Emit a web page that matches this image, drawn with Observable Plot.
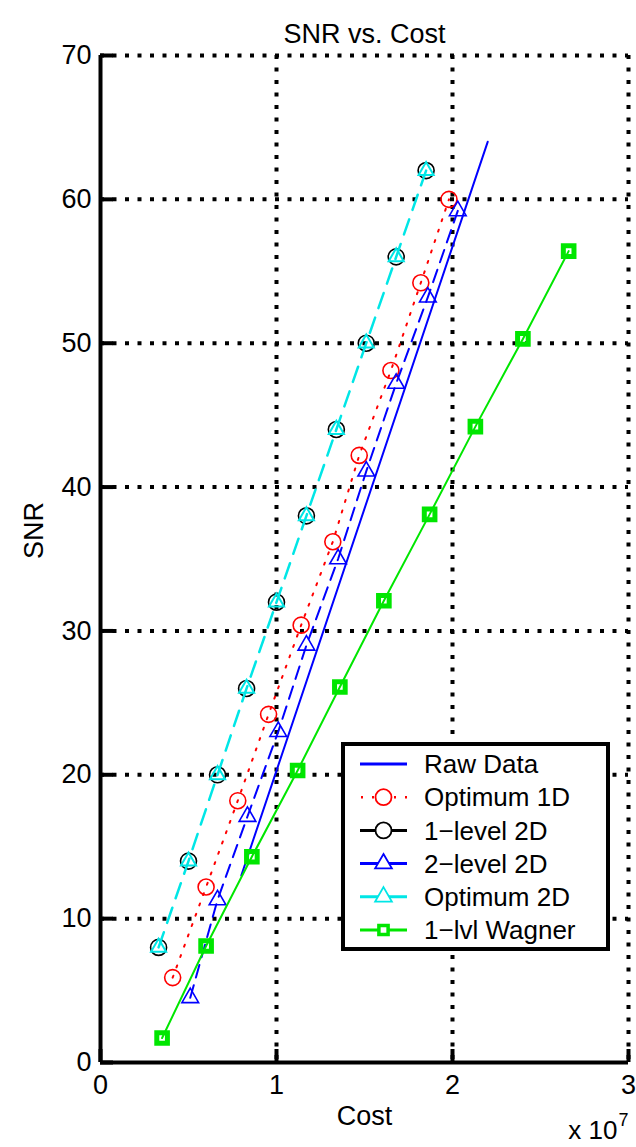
<!DOCTYPE html>
<html><head><meta charset="utf-8">
<script src="https://cdn.jsdelivr.net/npm/d3@7"></script>
<script src="https://cdn.jsdelivr.net/npm/@observablehq/plot@0.6"></script>
<style>body{margin:0;background:#fff;} svg{display:block}</style>
</head><body><div id="chart"></div>
<script>
// ---- data (cost in units of 1e7) ----
const rawCost = [0.8, 2.2];
const rawSNR  = [13, 64];
const opt1DCost = [0.41, 0.60, 0.78, 0.955, 1.14, 1.32, 1.47, 1.65, 1.82, 1.98];
const opt1DSNR  = [5.9, 12.2, 18.2, 24.2, 30.4, 36.2, 42.2, 48.1, 54.2, 60];
const lvl1Cost  = [0.33, 0.50, 0.665, 0.83, 1.0, 1.17, 1.34, 1.51, 1.68, 1.85];
const lvl1SNR   = [8, 14, 20, 26, 32, 38, 44, 50, 56, 62];
const lvl2Cost  = [0.51, 0.665, 0.835, 1.01, 1.17, 1.35, 1.51, 1.68, 1.86, 2.03];
const lvl2SNR   = [4.5, 11.3, 17.1, 23, 29, 35, 41.1, 47.2, 53.2, 59.2];
const opt2DCost = [0.33, 0.50, 0.665, 0.83, 1.0, 1.17, 1.34, 1.51, 1.68, 1.85];
const opt2DSNR  = [8, 14, 20, 26, 32, 38, 44, 50, 56, 62];
const wagCost   = [0.35, 0.60, 0.86, 1.12, 1.36, 1.61, 1.87, 2.13, 2.40, 2.66];
const wagSNR    = [1.7, 8.1, 14.3, 20.3, 26.1, 32.1, 38.1, 44.2, 50.3, 56.4];
const xTicks = [0, 1, 2, 3];
const yTicks = [0, 10, 20, 30, 40, 50, 60, 70];
const seriesNames = ["Raw Data", "Optimum 1D", "1\u2212level 2D", "2\u2212level 2D", "Optimum 2D", "1\u2212lvl Wagner"];
const title = "SNR vs. Cost";
const xLabel = "Cost";
const yLabel = "SNR";

const toRows = (xs, ys) => xs.map((x, i) => ({cost: x, snr: ys[i]}));
const raw = toRows(rawCost, rawSNR);
const opt1D = toRows(opt1DCost, opt1DSNR);
const lvl1 = toRows(lvl1Cost, lvl1SNR);
const lvl2 = toRows(lvl2Cost, lvl2SNR);
const opt2D = toRows(opt2DCost, opt2DSNR);
const wag = toRows(wagCost, wagSNR);

// ---- styles ----
const BLUE = "#0000ff", RED = "#ff0000", CYAN = "#00e6e6", GREEN = "#00e600", BLACK = "#000";
const W = 636, H = 1147, ML = 100, MR = 8, MT = 55, MB = 85;
const FS = 27;
const FONT = "'Liberation Sans', Arial, sans-serif";

const chart = Plot.plot({
  width: W, height: H,
  marginLeft: ML, marginRight: MR, marginTop: MT, marginBottom: MB,
  style: {fontFamily: FONT, fontSize: FS + "px", background: "#fff", color: "#000"},
  x: {domain: [0, 3], ticks: xTicks},
  y: {domain: [0, 70], ticks: yTicks},
  marks: [
    // dotted grid
    Plot.ruleX(xTicks.filter(d => d > 0), {stroke: BLACK, strokeWidth: 4, strokeDasharray: "4,8.5"}),
    Plot.ruleY(yTicks.filter(d => d > 0), {stroke: BLACK, strokeWidth: 4, strokeDasharray: "4,8.5"}),
    // axis tick labels
    Plot.axisX({ticks: xTicks, tickSize: 0, tickPadding: 12, label: null, tickFormat: d => String(d)}),
    Plot.axisY({ticks: yTicks, tickSize: 0, tickPadding: 9, label: null, tickFormat: d => String(d)}),
    // series
    Plot.line(raw, {x: "cost", y: "snr", stroke: BLUE, strokeWidth: 2}),
    Plot.line(opt1D, {x: "cost", y: "snr", stroke: RED, strokeWidth: 2, strokeDasharray: "2,9"}),
    Plot.dot(opt1D, {x: "cost", y: "snr", r: 8, stroke: RED, strokeWidth: 1.6}),
    Plot.dot(lvl1, {x: "cost", y: "snr", r: 8, stroke: BLACK, strokeWidth: 1.6}),
    Plot.line(lvl2, {x: "cost", y: "snr", stroke: BLUE, strokeWidth: 2, strokeDasharray: "13,8"}),
    Plot.dot(lvl2, {x: "cost", y: "snr", symbol: "triangle", r: 6.2, stroke: BLUE, strokeWidth: 1.6}),
    Plot.line(opt2D, {x: "cost", y: "snr", stroke: CYAN, strokeWidth: 2.5, strokeDasharray: "16,10"}),
    Plot.dot(opt2D, {x: "cost", y: "snr", symbol: "triangle", r: 5.6, stroke: CYAN, strokeWidth: 2}),
    Plot.line(wag, {x: "cost", y: "snr", stroke: GREEN, strokeWidth: 2}),
    Plot.dot(wag, {x: "cost", y: "snr", symbol: "square", r: 6, stroke: GREEN, strokeWidth: 5}),
    // axes lines and inward ticks
    Plot.ruleX([0], {stroke: BLACK, strokeWidth: 4}),
    Plot.ruleY([0], {stroke: BLACK, strokeWidth: 4}),
    Plot.tickY(yTicks, {y: d => d, stroke: BLACK, strokeWidth: 4, insetRight: (W - ML - MR) - 13}),
    Plot.tickX(xTicks, {x: d => d, stroke: BLACK, strokeWidth: 4, insetTop: (H - MT - MB) - 13}),
    // titles
    Plot.text([title], {frameAnchor: "top", dy: -32, fontSize: FS}),
    Plot.text([xLabel], {frameAnchor: "bottom", dy: 62, fontSize: FS}),
    Plot.text([yLabel], {frameAnchor: "left", dx: -66, rotate: -90, fontSize: FS}),
    Plot.text(["x 10"], {frameAnchor: "bottom-right", dx: -11, dy: 76, textAnchor: "end", fontSize: FS - 1}),
    Plot.text(["7"], {frameAnchor: "bottom-right", dx: 0, dy: 63, textAnchor: "end", fontSize: 18})
  ]
});
document.getElementById("chart").appendChild(chart);

// ---- legend ----
const legendStyles = [
  {color: BLUE, dash: null, marker: null},
  {color: RED, dash: "2,9", marker: "circle"},
  {color: BLACK, dash: null, marker: "circle"},
  {color: BLUE, dash: null, marker: "triangle"},
  {color: CYAN, dash: null, marker: "triangle"},
  {color: GREEN, dash: null, marker: "square"}
];
const svg = d3.select(chart);
const lg = svg.append("g").attr("font-family", FONT).attr("font-size", FS - 1).attr("text-anchor", "start");
const bx = 343, by = 744, bw = 265, bh = 205, rowH = 33.2, row0 = 764;
lg.append("rect").attr("x", bx).attr("y", by).attr("width", bw).attr("height", bh)
  .attr("fill", "#fff").attr("stroke", BLACK).attr("stroke-width", 4);
seriesNames.forEach((name, i) => {
  const s = legendStyles[i];
  const cy = row0 + i * rowH;
  const g = lg.append("g");
  const ln = g.append("line").attr("x1", 360).attr("x2", 407).attr("y1", cy).attr("y2", cy)
    .attr("stroke", s.color).attr("stroke-width", i === 1 ? 2.5 : 3);
  if (s.dash) ln.attr("stroke-dasharray", s.dash).attr("stroke-dashoffset", -1);
  if (s.marker === "circle") {
    g.append("circle").attr("cx", 383.5).attr("cy", cy).attr("r", 8).attr("fill", "#fff").attr("stroke", s.color).attr("stroke-width", 1.8);
  } else if (s.marker) {
    const type = s.marker === "triangle" ? d3.symbolTriangle : d3.symbolSquare;
    const r = s.marker === "triangle" ? 6.2 : 5.2;
    g.append("path").attr("transform", `translate(383.5,${cy})`)
      .attr("d", d3.symbol(type, Math.PI * r * r)())
      .attr("fill", "#fff").attr("stroke", s.color).attr("stroke-width", s.marker === "square" ? 3.5 : 1.8);
  }
  g.append("text").attr("x", 424).attr("y", cy).attr("dy", "0.35em").attr("fill", BLACK).attr("text-anchor", "start").text(name);
});
</script>
</body></html>
